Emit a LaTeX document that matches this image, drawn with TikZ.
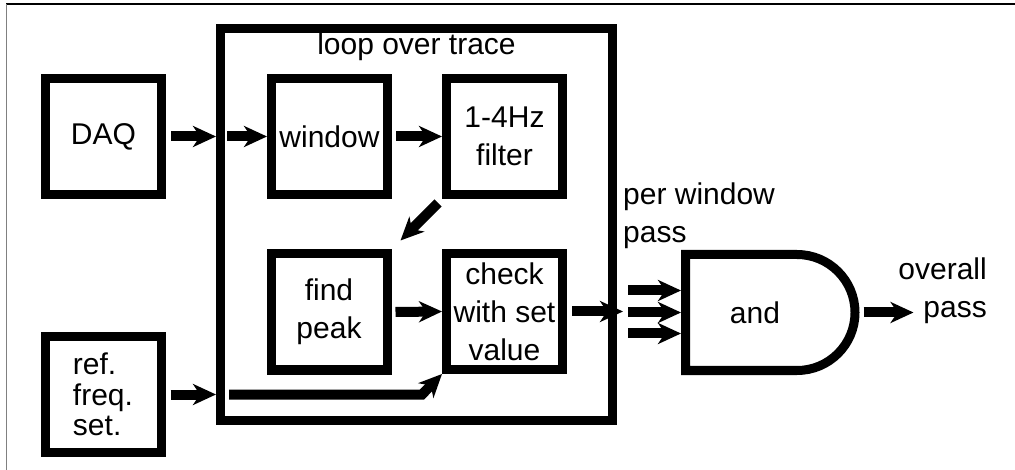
\documentclass[tikz,border=0pt]{standalone}
\usepackage{fontspec}
\setmainfont{Liberation Sans}
\usetikzlibrary{arrows.meta}
\begin{document}
\begin{tikzpicture}[x=1pt,y=-1pt,
  box/.style={draw,line width=9pt,minimum width=116pt,minimum height=116pt,inner sep=0pt,align=center,font=\fontsize{30}{38}\selectfont},
  lbl/.style={inner sep=0pt,font=\fontsize{30}{38}\selectfont},
  arr/.style={line width=10pt,-{Stealth[length=23pt,width=21pt,inset=7pt]}},
  thick9/.style={line width=9pt}]
\useasboundingbox (0,0) rectangle (1015,470);
\draw[line width=1.3pt] (6,4) -- (1015,4);
\draw[line width=1.5pt,color=gray] (6.5,4) -- (6.5,470);

\node[box] (daq) at (103.5,136.5) {DAQ};
\node[box] (win) at (329.5,136.5) {window};
\node[box] (filt) at (504.5,136.5) {1-4Hz\\filter};
\node[box] (peak) at (329,312) {find\\peak};
\node[box] (check) at (504.5,311.5) {check\\with set\\value};
\node[box,align=left,font=\fontsize{30}{30.5}\selectfont] (ref) at (103,394.5) {ref.\\freq.\\set.};
\node[draw,thick9,minimum width=392pt,minimum height=392pt,inner sep=0pt] (loop) at (416.5,224.5) {};
\node[lbl] (looplbl) at (416.5,47) {loop over trace};

\node[minimum width=169.5pt,minimum height=116pt,inner sep=0pt,outer sep=4.5pt] (gate) at (770.25,312.5) {};
\draw[thick9] (685.5,254.5) -- (797,254.5)
  .. controls (829.03,254.5) and (855,280.47) .. (855,312.5)
  .. controls (855,344.53) and (829.03,370.5) .. (797,370.5)
  -- (685.5,370.5) -- cycle;
\node[lbl] (andlbl) at (755,312.5) {and};
\node[lbl,align=left,anchor=west] (pwp) at (623,216) {per window\\pass};
\node[lbl,align=right,anchor=east] (ovp) at (987,291) {overall\\pass};

\draw[arr] ([xshift=5pt]daq.east) -- (loop.west |- daq.east);
\draw[arr] ([xshift=11pt]loop.west |- win.west) -- (win.west);
\draw[arr] ([xshift=4pt]win.east) -- (filt.west);
\draw[arr] ([shift={(-4pt,-4pt)}]filt.south west) -- ([shift={(9pt,9pt)}]peak.north east);
\draw[arr] ([xshift=4pt]peak.east) -- (check.west);
\draw[arr] ([xshift=5pt]check.east) -- ([xshift=6pt]loop.east |- check.east);
\draw[arr] ([xshift=5pt]ref.east) -- (loop.west |- ref.east);
\draw[arr] ([xshift=13pt]loop.west |- ref.east) -- ([xshift=-20pt]check.south west |- ref.east) -- (check.south west);
\draw[arr] ([shift={(-53pt,22pt)}]gate.west) -- ([yshift=22pt]gate.west);
\draw[arr] ([xshift=-53pt]gate.west) -- (gate.west);
\draw[arr] ([shift={(-53pt,-21pt)}]gate.west) -- ([yshift=-21pt]gate.west);
\draw[arr] ([xshift=4pt]gate.east) -- ([xshift=54pt]gate.east);
\end{tikzpicture}
\end{document}
